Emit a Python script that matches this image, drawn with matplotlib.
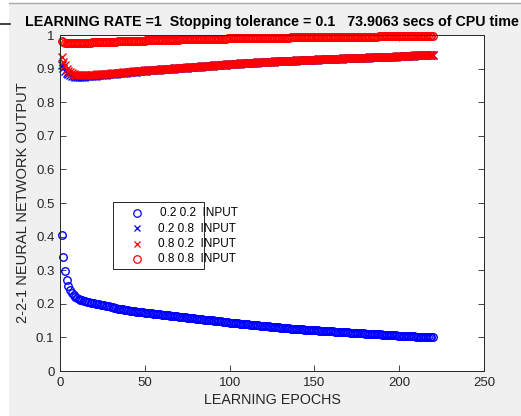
import matplotlib
matplotlib.use("Agg")
import matplotlib.pyplot as plt
from matplotlib.lines import Line2D
from matplotlib.patches import Rectangle

plt.rcParams['font.family'] = ['Liberation Sans', 'DejaVu Sans']

epochs = list(range(1, 221))

out_02_02 = [
    .405, .338, .298, .270, .252, .240, .232, .226, .221, .217,
    .214, .212, .210, .208, .207, .206, .205, .203, .202, .201,
    .200, .199, .198, .197, .196, .195, .194, .193, .192, .190,
    .189, .188, .187, .186, .185, .185, .184, .183, .182, .181,
    .180, .180, .179, .178, .177, .177, .176, .175, .175, .174,
    .173, .173, .172, .172, .171, .170, .170, .169, .169, .168,
    .167, .167, .166, .166, .165, .164, .164, .163, .163, .162,
    .161, .161, .160, .160, .159, .158, .158, .157, .157, .156,
    .156, .155, .154, .154, .153, .153, .152, .152, .151, .151,
    .150, .149, .149, .148, .148, .147, .147, .146, .145, .144,
    .144, .143, .143, .142, .142, .141, .141, .140, .140, .139,
    .139, .138, .138, .137, .137, .136, .136, .135, .135, .134,
    .134, .133, .133, .132, .132, .131, .131, .130, .130, .129,
    .129, .128, .128, .127, .127, .126, .126, .126, .125, .125,
    .124, .124, .124, .123, .123, .123, .122, .122, .122, .121,
    .121, .121, .120, .120, .120, .119, .119, .119, .118, .118,
    .118, .117, .117, .117, .116, .116, .116, .115, .115, .115,
    .114, .114, .114, .113, .113, .113, .112, .112, .112, .111,
    .111, .111, .110, .110, .110, .109, .109, .109, .109, .108,
    .108, .108, .107, .107, .107, .106, .106, .106, .105, .105,
    .105, .104, .104, .104, .104, .103, .103, .103, .103, .102,
    .102, .102, .102, .101, .101, .101, .101, .100, .100, .100,
]

out_02_08 = [
    .912, .902, .894, .888, .884, .881, .879, .877, .876, .876,
    .876, .876, .876, .876, .877, .877, .877, .878, .878, .879,
    .879, .880, .880, .881, .881, .882, .882, .883, .883, .884,
    .884, .885, .885, .886, .886, .887, .887, .888, .888, .889,
    .889, .890, .890, .891, .891, .892, .892, .893, .893, .894,
    .894, .895, .895, .896, .896, .896, .897, .897, .897, .898,
    .898, .898, .899, .899, .900, .900, .900, .901, .901, .901,
    .902, .902, .903, .903, .903, .904, .904, .904, .905, .905,
    .906, .906, .906, .907, .907, .908, .908, .908, .909, .909,
    .910, .910, .910, .911, .911, .912, .912, .912, .913, .913,
    .914, .914, .914, .915, .915, .915, .916, .916, .916, .917,
    .917, .917, .918, .918, .918, .918, .919, .919, .919, .920,
    .920, .920, .920, .921, .921, .921, .922, .922, .922, .922,
    .923, .923, .923, .923, .924, .924, .924, .924, .924, .925,
    .925, .925, .925, .926, .926, .926, .926, .927, .927, .927,
    .927, .927, .928, .928, .928, .928, .929, .929, .929, .929,
    .929, .930, .930, .930, .930, .930, .931, .931, .931, .931,
    .931, .932, .932, .932, .932, .932, .932, .933, .933, .933,
    .933, .933, .934, .934, .934, .934, .934, .935, .935, .935,
    .935, .935, .936, .936, .936, .936, .936, .936, .937, .937,
    .937, .937, .937, .938, .938, .938, .938, .938, .938, .939,
    .939, .939, .939, .939, .940, .940, .940, .940, .940, .941,
]

out_08_02 = [
    .935, .920, .910, .900, .893, .889, .886, .884, .882, .881,
    .880, .880, .880, .880, .880, .880, .881, .881, .881, .882,
    .882, .883, .883, .883, .884, .884, .885, .885, .885, .886,
    .886, .887, .887, .888, .888, .888, .889, .889, .890, .890,
    .891, .891, .892, .892, .893, .893, .893, .894, .894, .895,
    .895, .895, .896, .896, .896, .897, .897, .897, .898, .898,
    .898, .899, .899, .900, .900, .900, .901, .901, .901, .902,
    .902, .902, .903, .903, .904, .904, .904, .905, .905, .905,
    .906, .906, .907, .907, .907, .908, .908, .909, .909, .909,
    .910, .910, .911, .911, .911, .912, .912, .913, .913, .914,
    .914, .914, .915, .915, .915, .916, .916, .916, .917, .917,
    .917, .917, .918, .918, .918, .919, .919, .919, .919, .920,
    .920, .920, .921, .921, .921, .921, .922, .922, .922, .922,
    .923, .923, .923, .923, .924, .924, .924, .924, .925, .925,
    .925, .925, .926, .926, .926, .926, .926, .927, .927, .927,
    .927, .928, .928, .928, .928, .928, .929, .929, .929, .929,
    .929, .930, .930, .930, .930, .930, .931, .931, .931, .931,
    .931, .932, .932, .932, .932, .932, .933, .933, .933, .933,
    .933, .934, .934, .934, .934, .934, .935, .935, .935, .935,
    .935, .935, .936, .936, .936, .936, .936, .937, .937, .937,
    .937, .937, .937, .938, .938, .938, .938, .938, .939, .939,
    .939, .939, .939, .940, .940, .940, .940, .940, .941, .941,
]

out_08_08 = [
    .983, .979, .977, .976, .975, .975, .975, .975, .975, .975,
    .976, .976, .976, .976, .977, .977, .977, .977, .978, .978,
    .978, .978, .978, .979, .979, .979, .979, .979, .980, .980,
    .980, .980, .980, .981, .981, .981, .981, .981, .982, .982,
    .982, .982, .982, .982, .983, .983, .983, .983, .983, .983,
    .984, .984, .984, .984, .984, .984, .985, .985, .985, .985,
    .985, .985, .985, .986, .986, .986, .986, .986, .986, .986,
    .987, .987, .987, .987, .987, .987, .987, .987, .988, .988,
    .988, .988, .988, .988, .988, .988, .988, .989, .989, .989,
    .989, .989, .989, .989, .989, .989, .989, .989, .990, .990,
    .990, .990, .990, .990, .990, .990, .990, .990, .990, .991,
    .991, .991, .991, .991, .991, .991, .991, .991, .991, .991,
    .991, .992, .992, .992, .992, .992, .992, .992, .992, .992,
    .992, .992, .992, .992, .992, .993, .993, .993, .993, .993,
    .993, .993, .993, .993, .993, .993, .993, .993, .993, .993,
    .994, .994, .994, .994, .994, .994, .994, .994, .994, .994,
    .994, .994, .994, .994, .994, .994, .994, .995, .995, .995,
    .995, .995, .995, .995, .995, .995, .995, .995, .995, .995,
    .995, .995, .995, .995, .995, .995, .995, .996, .996, .996,
    .996, .996, .996, .996, .996, .996, .996, .996, .996, .996,
    .996, .996, .996, .996, .996, .996, .996, .996, .996, .997,
    .997, .997, .997, .997, .997, .997, .997, .997, .997, .997,
]

legend_labels = ['0.2 0.2  INPUT', '0.2 0.8  INPUT', '0.8 0.2  INPUT', '0.8 0.8  INPUT']
x_ticks = [0, 50, 100, 150, 200, 250]
y_ticks = [0, 0.1, 0.2, 0.3, 0.4, 0.5, 0.6, 0.7, 0.8, 0.9, 1]
y_tick_labels = ['0', '0.1', '0.2', '0.3', '0.4', '0.5', '0.6', '0.7', '0.8', '0.9', '1']
title = 'LEARNING RATE =1  Stopping tolerance = 0.1   73.9063 secs of CPU time'

W, H = 521, 416


def fx(px):
    return px / W


def fy(py):
    return 1 - py / H


fig = plt.figure(figsize=(W / 100, H / 100), dpi=100, facecolor='#f0f0f0')
# white margins on the left and top of the MATLAB-like grey window
fig.patches.append(Rectangle((0, 0), fx(9), 1, transform=fig.transFigure,
                             facecolor='white', edgecolor='none', zorder=-5))
fig.patches.append(Rectangle((0, fy(2.5)), 1, 2.5 / H, transform=fig.transFigure,
                             facecolor='white', edgecolor='none', zorder=-5))
fig.lines.append(Line2D([fx(9), 1], [fy(2.5), fy(2.5)], transform=fig.transFigure,
                        color='#a8a8a8', lw=1.0, zorder=-4))
fig.lines.append(Line2D([0, fx(10)], [fy(24), fy(24)], transform=fig.transFigure,
                        color='#202020', lw=1.2, zorder=-4))

ax = fig.add_axes([fx(60), fy(371), 424 / W, 336 / H])
ax.set_facecolor('white')

ms = 5.4
mew = 1.0
styles = [
    dict(marker='o', mfc='none', mec='#0000ff'),
    dict(marker='x', mfc='none', mec='#0000ff'),
    dict(marker='x', mfc='none', mec='#ff0000'),
    dict(marker='o', mfc='none', mec='#ff0000'),
]
series = [out_02_02, out_02_08, out_08_02, out_08_08]
for ys, st in zip(series, styles):
    ax.plot(epochs, ys, ls='none', ms=ms, mew=mew, clip_on=False, **st)

ax.set_xlim(0, 250)
ax.set_ylim(0, 1)
ax.set_xticks(x_ticks)
ax.set_yticks(y_ticks)
ax.set_yticklabels(y_tick_labels)
tc = '#262626'
ax.tick_params(direction='in', top=True, right=True, length=4, width=0.6,
               colors=tc, labelsize=9.5, pad=4)
for s in ax.spines.values():
    s.set_color(tc)
    s.set_linewidth(0.7)

ax.set_title(title, fontsize=10.3, fontweight='bold', color='black', pad=6.5)
ax.set_xlabel('LEARNING EPOCHS', fontsize=10.3, color=tc, labelpad=3)
ax.set_ylabel('2-2-1 NEURAL NETWORK OUTPUT', fontsize=10.5, color=tc, labelpad=4)

# MATLAB-style legend box (text overflows the frame as in the original)
fig.patches.append(Rectangle((fx(112.7), fy(269.3)), (204.3 - 112.7) / W, (269.3 - 202.3) / H,
                             transform=fig.transFigure, facecolor='white',
                             edgecolor='#262626', lw=0.7, zorder=3))
row_y = [212.5, 228.0, 243.5, 259.0]
text_x = [160.5, 157.5, 157.5, 157.5]
for i, st in enumerate(styles):
    leg_ms = ms if st['marker'] == 'o' else 4.0
    fig.lines.append(Line2D([fx(136.7)], [fy(row_y[i])], transform=fig.transFigure,
                            ls='none', ms=leg_ms, mew=0.9, zorder=4, **st))
    fig.text(fx(text_x[i]), fy(row_y[i] + 0.5), legend_labels[i], fontsize=8.5,
             color='black', va='center', ha='left', zorder=4)

fig.savefig('out.png', dpi=100, facecolor=fig.get_facecolor())
